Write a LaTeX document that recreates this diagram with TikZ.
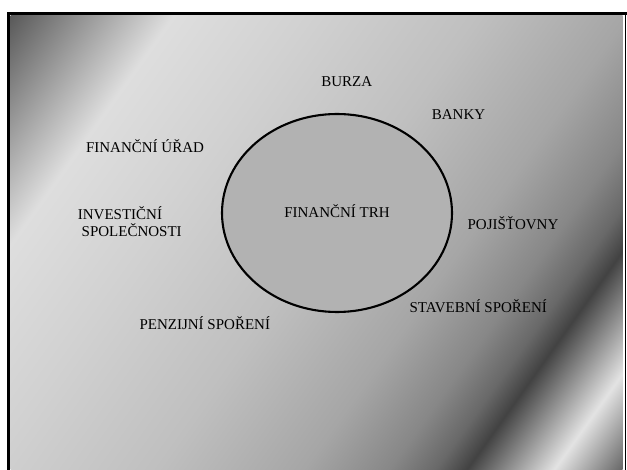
\documentclass[tikz,border=0pt]{standalone}
\usepackage{fontspec}
\setmainfont{Liberation Serif}
\usepackage{tikz}
\usetikzlibrary{shapes.geometric}

% chrome background, 25bp..75bp runs along the diagonal
\pgfdeclarehorizontalshading{chrome}{100bp}{%
  color(0bp)=(black!72); color(25bp)=(black!72);
  color(34.5bp)=(black!13); color(41.5bp)=(black!18);
  color(50.3bp)=(black!25); color(57.9bp)=(black!35);
  color(62.3bp)=(black!47); color(64.7bp)=(black!59);
  color(66.3bp)=(black!74); color(70.8bp)=(black!11);
  color(75bp)=(black!69); color(100bp)=(black!69)}

\begin{document}
\begin{tikzpicture}[
    x=1pt, y=-1pt,
    market/.style={ellipse, draw=black, line width=2.1pt, fill=black!30, minimum width=230pt, minimum height=198pt, font=\fontsize{15}{17}\selectfont, text height=10pt, text depth=0pt},
    entity/.style={font=\fontsize{15}{17}\selectfont, anchor=base, inner sep=0pt}
]
\useasboundingbox (0,0) rectangle (627,470);

% Background
\begin{scope}
\clip (10.5,15.5) rectangle (622.7,470);
\begin{scope}[transform canvas={rotate=-35.5}]
\shade[shading=chrome] (0pt,-400pt) rectangle (790pt,380pt);
\end{scope}
\end{scope}

% Frame
\draw[line width=3.5pt] (8.7,470) -- (8.7,13.5) -- (627,13.5);
\draw[line width=1.4pt] (625.3,13.5) -- (625.3,470);

% Market in the middle
\node[market] (trh) at (337,213) {FINANČNÍ TRH};

% Institutions around it
\node[entity] (burza) at (346.7,86.7) {BURZA};
\node[entity] (banky) at (458.5,120) {BANKY};
\node[entity] (urad) at (145,152.7) {FINANČNÍ ÚŘAD};
\node[entity] (inv1) at (120,219.3) {INVESTIČNÍ};
\node[entity] (inv2) at (131.7,236.7) {SPOLEČNOSTI};
\node[entity] (pojist) at (513,229.3) {POJIŠŤOVNY};
\node[entity] (stav) at (478.3,312.3) {STAVEBNÍ SPOŘENÍ};
\node[entity] (penz) at (204.8,330) {PENZIJNÍ SPOŘENÍ};
\end{tikzpicture}
\end{document}
